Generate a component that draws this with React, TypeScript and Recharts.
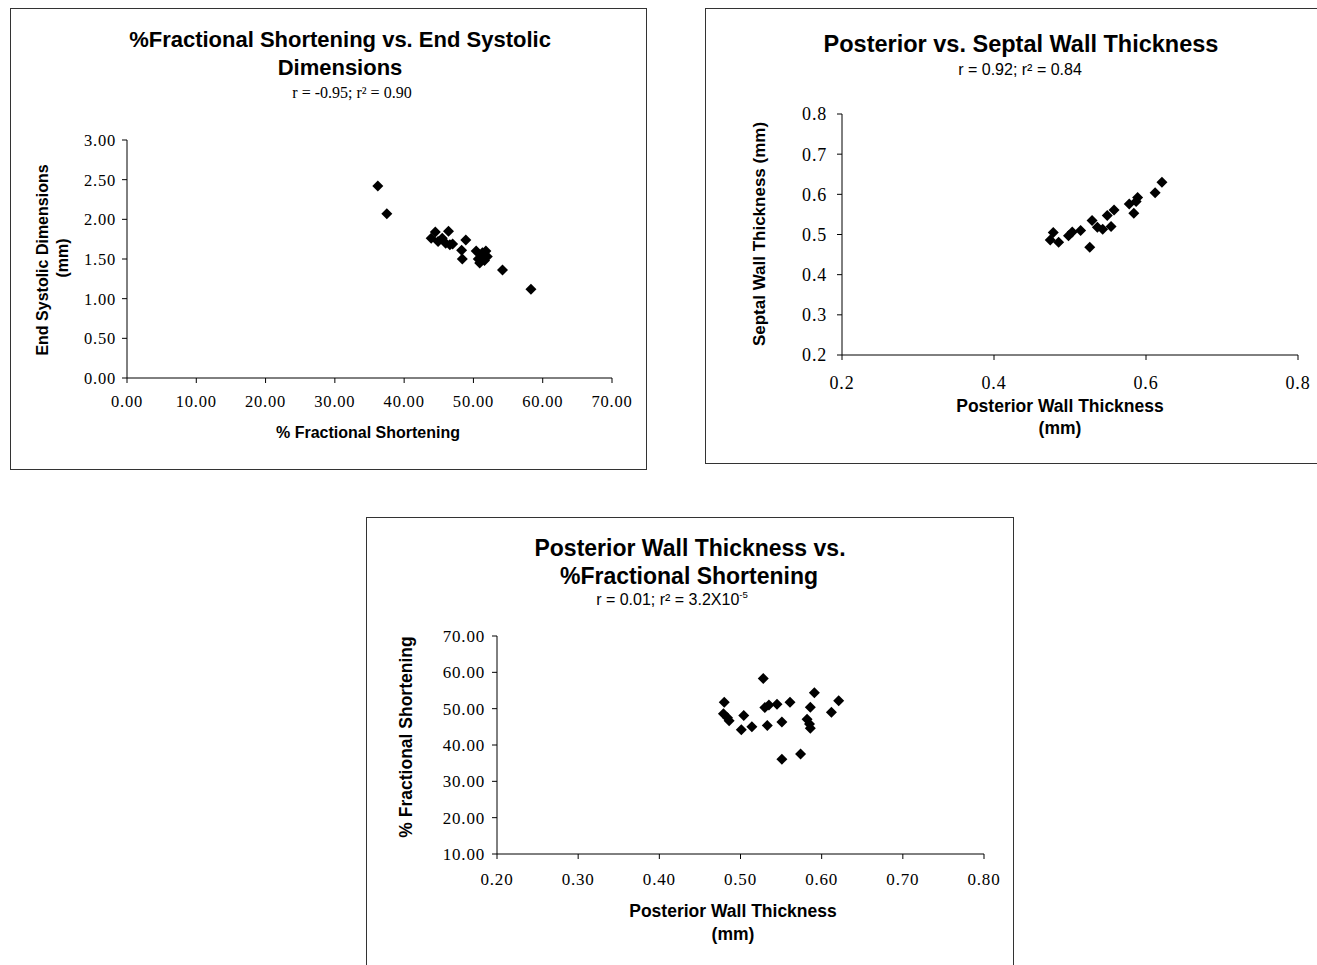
import React from "react";
import { ScatterChart, Scatter, XAxis, YAxis } from "recharts";

// chart 1: % fractional shortening vs end systolic dimensions
const fs1 = [36.2, 37.5, 43.9, 44.5, 44.9, 45.5, 46.0, 46.4, 46.6, 47.0, 48.3, 48.4, 48.9, 50.4, 50.7, 50.9, 51.2, 51.3, 51.6, 51.8, 52.0, 54.2, 58.3];
const esd1 = [2.42, 2.07, 1.76, 1.84, 1.72, 1.76, 1.70, 1.85, 1.68, 1.69, 1.61, 1.50, 1.74, 1.60, 1.50, 1.45, 1.53, 1.58, 1.48, 1.60, 1.53, 1.36, 1.12];
const xTicks1 = [0, 10, 20, 30, 40, 50, 60, 70];
const yTicks1 = [0, 0.5, 1, 1.5, 2, 2.5, 3];

// chart 2: posterior vs septal wall thickness
const pwt2 = [0.478, 0.474, 0.485, 0.498, 0.503, 0.514, 0.526, 0.529, 0.536, 0.543, 0.549, 0.554, 0.558, 0.578, 0.584, 0.587, 0.589, 0.612, 0.621];
const swt2 = [0.505, 0.486, 0.481, 0.497, 0.506, 0.510, 0.468, 0.535, 0.518, 0.513, 0.547, 0.520, 0.561, 0.576, 0.553, 0.582, 0.592, 0.604, 0.630];
const xTicks2 = [0.2, 0.4, 0.6, 0.8];
const yTicks2 = [0.2, 0.3, 0.4, 0.5, 0.6, 0.7, 0.8];

// chart 3: posterior wall thickness vs % fractional shortening
const pwt3 = [0.480, 0.479, 0.484, 0.486, 0.504, 0.501, 0.514, 0.528, 0.530, 0.535, 0.533, 0.545, 0.551, 0.551, 0.561, 0.574, 0.582, 0.585, 0.586, 0.586, 0.591, 0.612, 0.621];
const fs3 = [51.8, 48.6, 47.5, 46.7, 48.1, 44.2, 45.0, 58.3, 50.3, 51.0, 45.4, 51.2, 46.3, 36.1, 51.8, 37.5, 47.1, 45.8, 44.6, 50.4, 54.4, 49.0, 52.2];
const xTicks3 = [0.2, 0.3, 0.4, 0.5, 0.6, 0.7, 0.8];
const yTicks3 = [10, 20, 30, 40, 50, 60, 70];

const SANS = "'Liberation Sans', Arial, sans-serif";
const SERIF = "'Liberation Serif', 'Times New Roman', serif";

const Diamond = (props: any) => {
  const { cx, cy } = props;
  const r = 5.5;
  return <path d={`M${cx},${cy - r}L${cx + r},${cy}L${cx},${cy + r}L${cx - r},${cy}Z`} fill="#000" />;
};

function Txt({ x, y, size, bold = true, font = SANS, rotate = false, children }: any) {
  return (
    <div
      style={{
        position: "absolute",
        left: x,
        top: y,
        transform: `translate(-50%, -50%)${rotate ? " rotate(-90deg)" : ""}`,
        whiteSpace: "nowrap",
        fontFamily: font,
        fontWeight: bold ? "bold" : "normal",
        fontSize: size,
        lineHeight: 1,
        color: "#000",
      }}
    >
      {children}
    </div>
  );
}

const boxStyle = (left: number, top: number, width: number, height: number): React.CSSProperties => ({
  position: "absolute",
  left,
  top,
  width,
  height,
  border: "1.5px solid #333",
  boxSizing: "border-box",
});

const tickStyle = (size: number) => ({ fontFamily: SERIF, fontSize: size, fill: "#000", letterSpacing: 0.8 });

export default function App() {
  const d1 = fs1.map((x, i) => ({ x, y: esd1[i] }));
  const d2 = pwt2.map((x, i) => ({ x, y: swt2[i] }));
  const d3 = pwt3.map((x, i) => ({ x, y: fs3[i] }));

  return (
    <div style={{ position: "absolute", left: 0, top: 0, width: 1317, height: 965, overflow: "hidden", background: "#fff" }}>
      {/* chart 1 */}
      <div style={boxStyle(10, 8, 637, 462)}>
        <ScatterChart width={637} height={462} margin={{ top: 131, right: 36, bottom: 63, left: 56 }}>
          <XAxis
            type="number"
            dataKey="x"
            domain={[0, 70]}
            ticks={xTicks1}
            tickFormatter={(v: number) => v.toFixed(2)}
            stroke="#000"
            tickSize={5}
            tickMargin={12}
            height={30}
            tick={tickStyle(16.5)}
          />
          <YAxis
            type="number"
            dataKey="y"
            domain={[0, 3]}
            ticks={yTicks1}
            tickFormatter={(v: number) => v.toFixed(2)}
            stroke="#000"
            tickSize={5}
            tickMargin={6}
            width={60}
            tick={tickStyle(16.5)}
          />
          <Scatter data={d1} shape={<Diamond />} isAnimationActive={false} />
        </ScatterChart>
      </div>
      <Txt x={340} y={40} size={22}>%Fractional Shortening vs. End Systolic</Txt>
      <Txt x={340} y={68} size={22}>Dimensions</Txt>
      <Txt x={352} y={93} size={16} bold={false} font={SERIF}>r = -0.95; r² = 0.90</Txt>
      <Txt x={368} y={433} size={16}>% Fractional Shortening</Txt>
      <Txt x={43} y={260} size={16} rotate>End Systolic Dimensions</Txt>
      <Txt x={63} y={258} size={16} rotate>(mm)</Txt>

      {/* chart 2 */}
      <div style={boxStyle(705, 8, 700, 456)}>
        <ScatterChart width={620} height={456} margin={{ top: 105, right: 28, bottom: 80, left: 76 }}>
          <XAxis
            type="number"
            dataKey="x"
            domain={[0.2, 0.8]}
            ticks={xTicks2}
            tickFormatter={(v: number) => v.toFixed(1)}
            stroke="#000"
            tickSize={5}
            tickMargin={16}
            height={30}
            tick={tickStyle(18)}
          />
          <YAxis
            type="number"
            dataKey="y"
            domain={[0.2, 0.8]}
            ticks={yTicks2}
            tickFormatter={(v: number) => v.toFixed(1)}
            stroke="#000"
            tickSize={5}
            tickMargin={10}
            width={60}
            tick={tickStyle(18)}
          />
          <Scatter data={d2} shape={<Diamond />} isAnimationActive={false} />
        </ScatterChart>
      </div>
      <Txt x={1021} y={45} size={23.5}>Posterior vs. Septal Wall Thickness</Txt>
      <Txt x={1020} y={70} size={16} bold={false}>r = 0.92; r² = 0.84</Txt>
      <Txt x={1060} y={407} size={17.5}>Posterior Wall Thickness</Txt>
      <Txt x={1060} y={429} size={17.5}>(mm)</Txt>
      <Txt x={759} y={234} size={17} rotate>Septal Wall Thickness (mm)</Txt>

      {/* chart 3 */}
      <div style={boxStyle(366, 517, 648, 470)}>
        <ScatterChart width={648} height={450} margin={{ top: 118, right: 31, bottom: 84, left: 70 }}>
          <XAxis
            type="number"
            dataKey="x"
            domain={[0.2, 0.8]}
            ticks={xTicks3}
            tickFormatter={(v: number) => v.toFixed(2)}
            stroke="#000"
            tickSize={5}
            tickMargin={14}
            height={30}
            tick={tickStyle(17)}
          />
          <YAxis
            type="number"
            dataKey="y"
            domain={[10, 70]}
            ticks={yTicks3}
            tickFormatter={(v: number) => v.toFixed(2)}
            stroke="#000"
            tickSize={5}
            tickMargin={7}
            width={60}
            tick={tickStyle(17)}
          />
          <Scatter data={d3} shape={<Diamond />} isAnimationActive={false} />
        </ScatterChart>
      </div>
      <Txt x={690} y={548} size={23}>Posterior Wall Thickness vs.</Txt>
      <Txt x={689} y={576} size={23}>%Fractional Shortening</Txt>
      <Txt x={672} y={599} size={16} bold={false}>
        r = 0.01; r² = 3.2X10<sup style={{ fontSize: "0.6em" }}>-5</sup>
      </Txt>
      <Txt x={733} y={912} size={17.5}>Posterior Wall Thickness</Txt>
      <Txt x={733} y={935} size={17.5}>(mm)</Txt>
      <Txt x={407} y={737} size={17.5} rotate>% Fractional Shortening</Txt>
    </div>
  );
}
